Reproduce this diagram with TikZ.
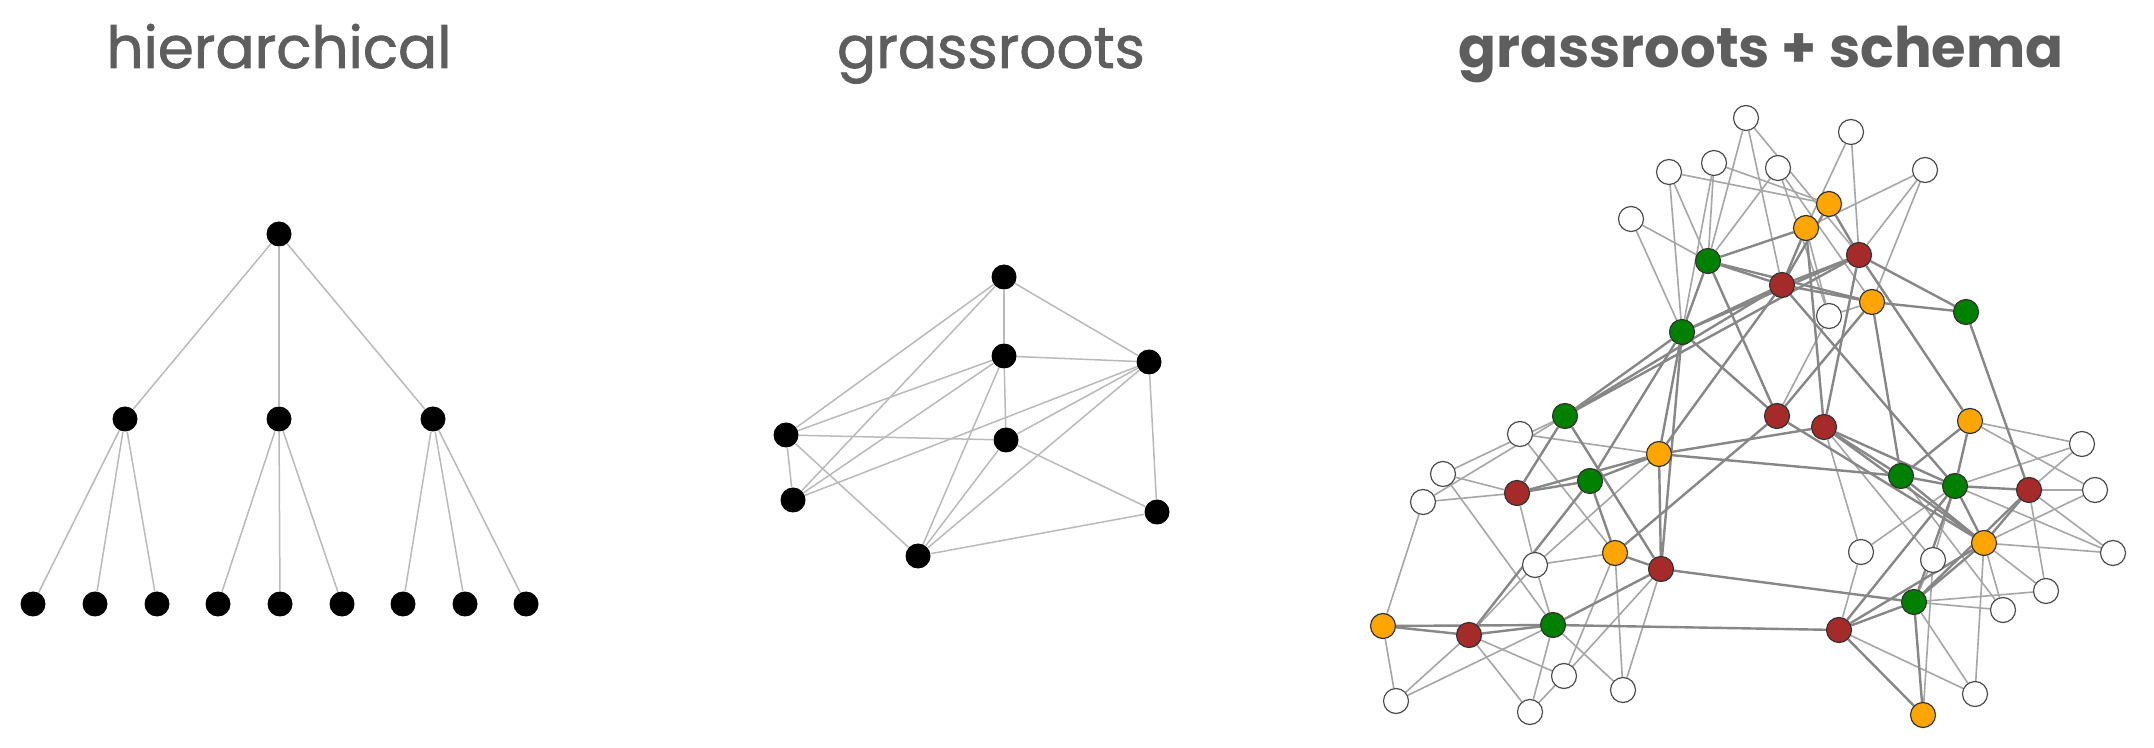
\documentclass[tikz,border=0pt]{standalone}
\usepackage{fontspec}
\setmainfont{Poppins}
\newfontfamily\titlefont[FakeBold=1.3]{Poppins}
\pgfdeclarelayer{bg}
\pgfdeclarelayer{edges}
\pgfsetlayers{bg,edges,main}
\definecolor{ttl}{HTML}{5E5E5E}
\definecolor{cor}{HTML}{FFA500}
\definecolor{cre}{HTML}{A52A2A}
\definecolor{cgr}{HTML}{008000}
\definecolor{bord}{HTML}{333333}
\tikzset{
  title/.style={text=ttl, font=\titlefont\fontsize{29}{32}\selectfont, anchor=base, inner sep=0},
  blk/.style={circle, fill=black, draw=none, minimum size=12.5pt, inner sep=0},
  nd/.style={circle, draw=bord, line width=0.6pt, minimum size=12.5pt, inner sep=0},
  wn/.style={nd, fill=white, draw=black!70},
  gn/.style={nd, fill=cgr},
  rn/.style={nd, fill=cre},
  on/.style={nd, fill=cor},
  ge/.style={draw=black!27, line width=0.75pt},
  dk/.style={draw=black!47, line width=1.2pt},
  lt/.style={draw=black!35, line width=0.8pt},
}
\begin{document}
\begin{tikzpicture}[x=0.5pt,y=-0.5pt]
\begin{pgfonlayer}{bg}
\fill[white] (0,0) rectangle (2154,748);
\end{pgfonlayer}
\useasboundingbox (0,0) rectangle (2154,748);
% titles
\node[title] (t1) at (279,68) {hierarchical};
\node[title] (t2) at (991,68) {grassroots};
\node[title, font=\fontsize{28}{31}\selectfont\bfseries] (t3) at (1761,68) {grassroots + schema};
% hierarchical
\node[blk] (h0) at (279,234) {};
\node[blk] (h1) at (125,419) {};
\node[blk] (h2) at (279,419) {};
\node[blk] (h3) at (433,419) {};
\node[blk] (l1) at (33,604) {};
\node[blk] (l2) at (95,604) {};
\node[blk] (l3) at (157,604) {};
\node[blk] (l4) at (218,604) {};
\node[blk] (l5) at (280,604) {};
\node[blk] (l6) at (342,604) {};
\node[blk] (l7) at (403,604) {};
\node[blk] (l8) at (465,604) {};
\node[blk] (l9) at (526,604) {};
% grassroots
\node[blk] (ma) at (1004,277) {};
\node[blk] (mb) at (1004,356) {};
\node[blk] (mc) at (1149,362) {};
\node[blk] (md) at (786,435) {};
\node[blk] (me) at (1006,440) {};
\node[blk] (mf) at (793,500) {};
\node[blk] (mg) at (918,556) {};
\node[blk] (mh) at (1157,512) {};
% grassroots + schema
\node[wn] (W1) at (1746,118) {};
\node[wn] (W2) at (1669,172) {};
\node[wn] (W3) at (1714,163) {};
\node[wn] (W4) at (1631,219) {};
\node[wn] (W5) at (1520,434) {};
\node[wn] (W6) at (1851,132) {};
\node[wn] (W7) at (1778,168) {};
\node[wn] (W8) at (1925,170) {};
\node[wn] (W9) at (1829,316) {};
\node[wn] (W10) at (1443,474) {};
\node[wn] (W11) at (1423,502) {};
\node[wn] (W12) at (1535,565) {};
\node[wn] (W13) at (1396,701) {};
\node[wn] (W14) at (1530,712) {};
\node[wn] (W15) at (1564,676) {};
\node[wn] (W16) at (1623,690) {};
\node[wn] (W17) at (2082,444) {};
\node[wn] (W18) at (2095,490) {};
\node[wn] (W19) at (1861,552) {};
\node[wn] (W20) at (1933,560) {};
\node[wn] (W21) at (2113,553) {};
\node[wn] (W22) at (2046,591) {};
\node[wn] (W23) at (2003,610) {};
\node[wn] (W24) at (1975,694) {};
\node[gn] (G1) at (1708,261) {};
\node[gn] (G2) at (1682,332) {};
\node[gn] (G3) at (1565,416) {};
\node[gn] (G4) at (1966,312) {};
\node[gn] (G5) at (1590,481) {};
\node[gn] (G6) at (1553,625) {};
\node[gn] (G7) at (1901,476) {};
\node[gn] (G8) at (1955,486) {};
\node[gn] (G9) at (1914,602) {};
\node[rn] (R1) at (1859,255) {};
\node[rn] (R2) at (1782,285) {};
\node[rn] (R3) at (1777,416) {};
\node[rn] (R4) at (1824,427) {};
\node[rn] (R5) at (1517,493) {};
\node[rn] (R6) at (1661,569) {};
\node[rn] (R7) at (1469,635) {};
\node[rn] (R8) at (2029,490) {};
\node[rn] (R9) at (1839,630) {};
\node[on] (O1) at (1829,204) {};
\node[on] (O2) at (1806,228) {};
\node[on] (O3) at (1872,302) {};
\node[on] (O4) at (1970,421) {};
\node[on] (O5) at (1659,454) {};
\node[on] (O6) at (1615,553) {};
\node[on] (O7) at (1383,626) {};
\node[on] (O8) at (1984,543) {};
\node[on] (O9) at (1923,715) {};
\begin{pgfonlayer}{edges}
% hierarchical edges
\foreach \a/\b in {h0/h1,h0/h2,h0/h3,h1/l1,h1/l2,h1/l3,h2/l4,h2/l5,h2/l6,h3/l7,h3/l8,h3/l9}
  \draw[ge] (\a) -- (\b);
% grassroots edges
\foreach \a/\b in {ma/mb,ma/mc,ma/md,ma/mf,mb/mc,mb/md,mb/mf,mb/me,mb/mg,md/me,md/mf,md/mg,mc/me,mc/mf,mc/mg,mc/mh,me/mg,me/mh,mg/mh}
  \draw[ge] (\a) -- (\b);
% schema: light edges
\foreach \a/\b in {W1/G1,W1/R2,W1/R1,W2/G1,W2/G2,W2/O1,W3/G1,W3/G2,W3/O1,W4/G1,W4/G2,
  W6/O2,W6/R1,W7/G1,W7/O3,W7/W9,W8/O2,W8/R1,W8/O3,W9/O2,W9/O3,W9/R3,
  W10/G3,W11/G3,W10/R5,W11/R5,W10/G6,W11/O7,W5/O5,W5/O6,
  W12/R5,W12/O6,W12/G6,W12/R7,W12/O5,W13/O7,W13/R7,W13/G6,
  W14/R7,W14/G6,W14/W15,W15/R7,W15/R6,W15/O6,W16/O6,W16/G6,W16/R6,
  W17/O4,W17/G8,W17/R8,W18/O4,W18/R8,W18/O8,W19/R4,W19/G8,W19/R9,
  W20/R4,W20/G8,W20/G9,W20/O9,W21/G8,W21/R8,W21/O8,W22/R8,W22/O8,W22/G9,
  W23/G7,W23/O8,W23/G9,W24/O8,W24/G9,W24/R9}
  \draw[lt] (\a) -- (\b);
% schema: dark edges
\foreach \a/\b in {G1/G2,G1/O2,G1/R2,G1/O3,G1/R3,
  G2/G3,G2/R2,G2/R1,G2/G5,G2/O5,G2/R6,G2/R3,
  G3/R5,G3/R6,G3/R2,G3/R1,O1/R1,O1/R2,O2/R2,O2/R4,
  R1/R2,R1/R4,R1/O4,R1/G4,R2/O3,R2/G8,R2/O5,O3/G4,O3/G7,O3/R3,G4/R8,
  R3/O6,R3/O8,R4/O5,R4/G7,R4/G8,R4/O8,O4/G7,O4/G8,G7/G8,G7/O8,O5/G7,
  G8/R8,G8/O8,G8/R9,G8/G9,R8/O8,R8/G9,O8/G9,O8/R9,G9/R9,G9/O9,R9/O9,
  R6/G9,G6/R9,R5/G5,R5/O5,G5/O5,G5/R7,G5/O6,O5/R6,O6/R6,G6/R6,
  O7/R7,O7/G6,R7/G6}
  \draw[dk] (\a) -- (\b);
\end{pgfonlayer}
\end{tikzpicture}
\end{document}
